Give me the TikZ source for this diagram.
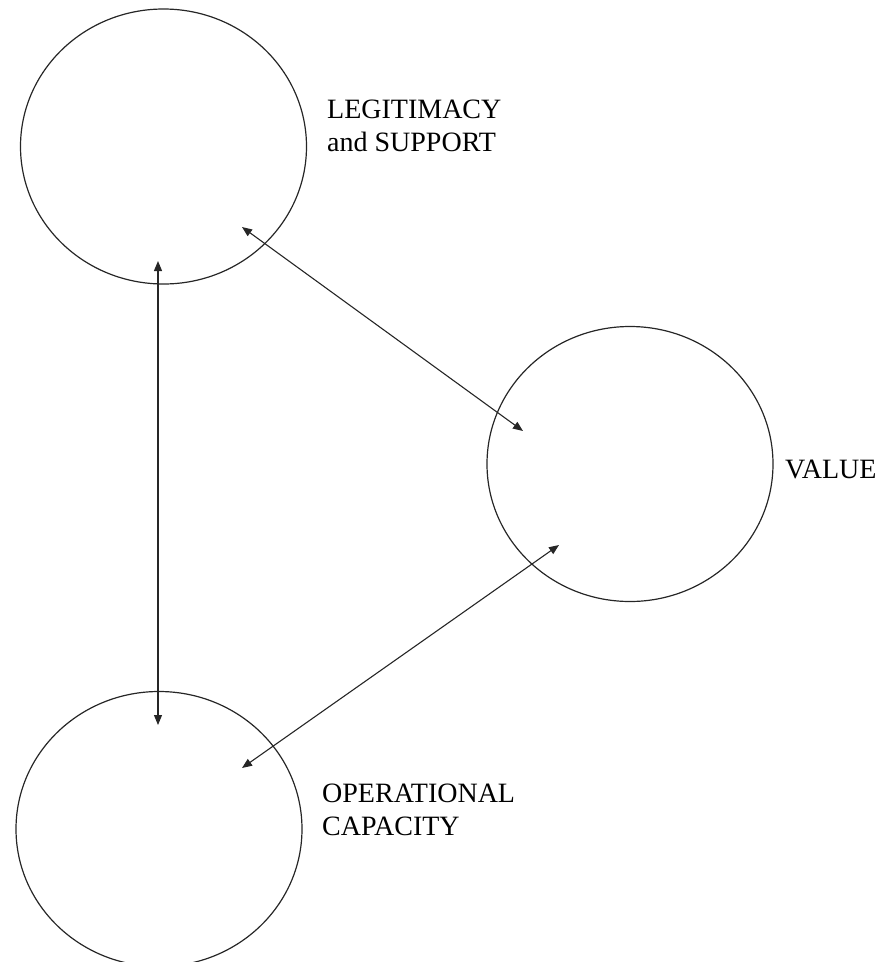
\documentclass[tikz,border=0pt]{standalone}
\usepackage{fontspec}
\setmainfont{Liberation Serif}
\usetikzlibrary{shapes.geometric,arrows.meta}
\begin{document}
\begin{tikzpicture}[x=1pt,y=-1pt,
  blob/.style={draw=black!85, line width=1.2pt, ellipse, inner sep=0pt,
    minimum width=286pt, minimum height=275pt},
  lab/.style={font=\fontsize{28}{33}\selectfont, inner sep=0pt, align=left, anchor=north west},
  link/.style={line width=1.1pt, draw=black!85, {Triangle[length=10pt,width=8pt]}-{Triangle[length=10pt,width=8pt]}}]
\useasboundingbox (0,0) rectangle (892,962);
\node[blob] (L) at (163.5,146.5) {};
\node[blob] (V) at (630,464) {};
\node[blob] (O) at (159,829) {};
\node[lab] (Ltext) at (327,99.5) {LEGITIMACY\\and SUPPORT};
\node[lab] (Vtext) at (785,459.5) {VALUE};
\node[lab] (Otext) at (322,783.5) {OPERATIONAL\\CAPACITY};
\coordinate (la) at (158,261);
\coordinate (oa) at (158,725);
\coordinate (lb) at (242,227);
\coordinate (va) at (523,431);
\coordinate (ob) at (242,768);
\coordinate (vb) at (559,545);
\draw[link] (la) -- (oa);
\draw[link] (lb) -- (va);
\draw[link] (ob) -- (vb);
\end{tikzpicture}
\end{document}
